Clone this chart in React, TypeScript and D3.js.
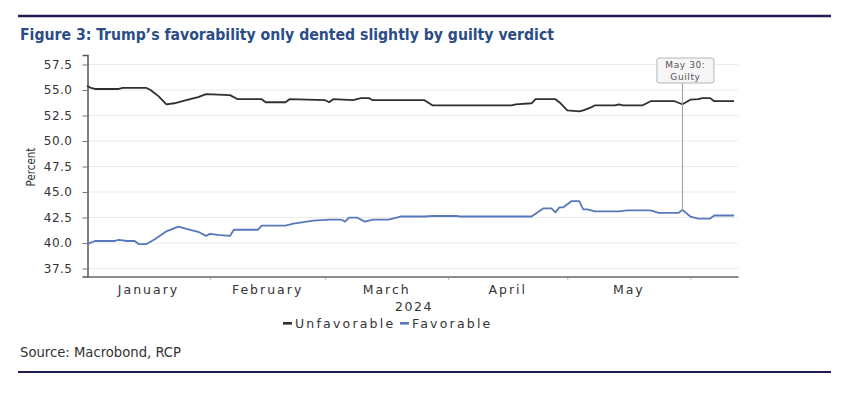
import React, { useEffect, useRef } from 'react';
import * as d3 from 'd3';

// RCP polling average
const unfavorable: [string, number][] = [
  ['2024-01-01', 55.4], ['2024-01-02', 55.2], ['2024-01-03', 55.1], ['2024-01-09', 55.1],
  ['2024-01-10', 55.2], ['2024-01-16', 55.2], ['2024-01-17', 55.0], ['2024-01-19', 54.4],
  ['2024-01-21', 53.6], ['2024-01-23', 53.7], ['2024-01-26', 54.0], ['2024-01-29', 54.3],
  ['2024-01-31', 54.6], ['2024-02-06', 54.5], ['2024-02-08', 54.1], ['2024-02-14', 54.1],
  ['2024-02-15', 53.8], ['2024-02-20', 53.8], ['2024-02-21', 54.1], ['2024-03-01', 54.0],
  ['2024-03-02', 53.8], ['2024-03-03', 54.1], ['2024-03-08', 54.0], ['2024-03-10', 54.2],
  ['2024-03-12', 54.2], ['2024-03-13', 54.0], ['2024-03-26', 54.0], ['2024-03-28', 53.5],
  ['2024-04-17', 53.5], ['2024-04-18', 53.6], ['2024-04-22', 53.7], ['2024-04-23', 54.1],
  ['2024-04-28', 54.1], ['2024-04-29', 53.8], ['2024-05-01', 53.0], ['2024-05-04', 52.9],
  ['2024-05-05', 53.0], ['2024-05-07', 53.3], ['2024-05-08', 53.5], ['2024-05-13', 53.5],
  ['2024-05-14', 53.6], ['2024-05-15', 53.5], ['2024-05-20', 53.5], ['2024-05-22', 53.9],
  ['2024-05-28', 53.9], ['2024-05-30', 53.6], ['2024-06-01', 54.05], ['2024-06-03', 54.1],
  ['2024-06-04', 54.2], ['2024-06-06', 54.2], ['2024-06-07', 53.9], ['2024-06-12', 53.9],
];

const favorable: [string, number][] = [
  ['2024-01-01', 39.9], ['2024-01-03', 40.2], ['2024-01-08', 40.2], ['2024-01-09', 40.3],
  ['2024-01-11', 40.2], ['2024-01-13', 40.2], ['2024-01-14', 39.9], ['2024-01-16', 39.9],
  ['2024-01-18', 40.35], ['2024-01-21', 41.15], ['2024-01-24', 41.6], ['2024-01-27', 41.3],
  ['2024-01-29', 41.1], ['2024-01-31', 40.7], ['2024-02-01', 40.9], ['2024-02-03', 40.8],
  ['2024-02-06', 40.7], ['2024-02-07', 41.3], ['2024-02-13', 41.3], ['2024-02-14', 41.7],
  ['2024-02-20', 41.7], ['2024-02-22', 41.9], ['2024-02-27', 42.2], ['2024-03-02', 42.3],
  ['2024-03-05', 42.3], ['2024-03-06', 42.1], ['2024-03-07', 42.5], ['2024-03-09', 42.5],
  ['2024-03-11', 42.1], ['2024-03-13', 42.3], ['2024-03-17', 42.3], ['2024-03-20', 42.6],
  ['2024-03-26', 42.6], ['2024-03-28', 42.65], ['2024-04-03', 42.65], ['2024-04-04', 42.6],
  ['2024-04-22', 42.6], ['2024-04-25', 43.4], ['2024-04-27', 43.4], ['2024-04-28', 43.0],
  ['2024-04-29', 43.5], ['2024-04-30', 43.5], ['2024-05-02', 44.1], ['2024-05-04', 44.1],
  ['2024-05-05', 43.3], ['2024-05-06', 43.3], ['2024-05-08', 43.1], ['2024-05-14', 43.1],
  ['2024-05-16', 43.2], ['2024-05-22', 43.2], ['2024-05-24', 42.95], ['2024-05-29', 42.95],
  ['2024-05-30', 43.25], ['2024-06-01', 42.6], ['2024-06-03', 42.4], ['2024-06-06', 42.4],
  ['2024-06-07', 42.7], ['2024-06-12', 42.7],
];

const monthLabels = ['January', 'February', 'March', 'April', 'May'];
const yTicks = [37.5, 40, 42.5, 45, 47.5, 50, 52.5, 55, 57.5];
const verdictDate = '2024-05-30';
const verdictText = ['May 30:', 'Guilty'];

const W = 848;
const H = 393;
const AXIS_FONT = "'DejaVu Sans', Verdana, sans-serif";
const NARROW_FONT = "'Liberation Sans Narrow', 'DejaVu Sans Condensed', 'Open Sans', sans-serif";

const App = () => {
  const ref = useRef<SVGSVGElement | null>(null);

  useEffect(() => {
    const svg = d3.select(ref.current);
    svg.selectAll('*').remove();

    const parse = d3.timeParse('%Y-%m-%d');
    const unfav = unfavorable.map(([d, v]) => ({ date: parse(d) as Date, value: v }));
    const fav = favorable.map(([d, v]) => ({ date: parse(d) as Date, value: v }));

    const x = d3.scaleTime()
      .domain([new Date(2024, 0, 1), new Date(2024, 5, 13)])
      .range([87, 738]);
    const y = d3.scaleLinear().domain([36.72, 58.43]).range([276.5, 55]);

    svg.append('rect').attr('width', W).attr('height', H).attr('fill', '#fff');

    // frame rules
    svg.append('line')
      .attr('x1', 18).attr('x2', 831).attr('y1', 16).attr('y2', 16)
      .attr('stroke', '#1d1d52').attr('stroke-width', 2.6);
    svg.append('line')
      .attr('x1', 18).attr('x2', 831).attr('y1', 372).attr('y2', 372)
      .attr('stroke', '#1d1d52').attr('stroke-width', 2.2);

    svg.append('text')
      .attr('x', 20).attr('y', 39.5)
      .attr('font-family', NARROW_FONT)
      .attr('font-size', 16)
      .attr('font-weight', 600)
      .attr('fill', '#2b4c86')
      .attr('textLength', 534)
      .attr('lengthAdjust', 'spacingAndGlyphs')
      .text('Figure 3: Trump\u2019s favorability only dented slightly by guilty verdict');

    svg.append('text')
      .attr('x', 20).attr('y', 356.5)
      .attr('font-family', NARROW_FONT)
      .attr('font-size', 13.5)
      .attr('fill', '#333')
      .attr('textLength', 161)
      .attr('lengthAdjust', 'spacingAndGlyphs')
      .text('Source: Macrobond, RCP');

    // gridlines
    svg.append('g')
      .selectAll('line')
      .data(yTicks)
      .enter()
      .append('line')
      .attr('x1', 88).attr('x2', 738)
      .attr('y1', (d) => y(d)).attr('y2', (d) => y(d))
      .attr('stroke', '#ebebeb').attr('stroke-width', 1);

    // y axis
    const yAxis = svg.append('g')
      .attr('transform', 'translate(87.5,0)')
      .call(d3.axisLeft(y).tickValues(yTicks).tickFormat(d3.format('.1f')).tickSize(5).tickPadding(10));
    yAxis.select('.domain').attr('stroke', '#555').attr('stroke-width', 1.5);
    yAxis.selectAll('.tick line').attr('stroke', '#777');
    yAxis.selectAll('.tick text')
      .attr('font-family', AXIS_FONT)
      .attr('font-size', 12)
      .attr('letter-spacing', 0.5)
      .attr('fill', '#333');

    // x axis, ticks at month boundaries
    const xAxis = svg.append('g')
      .attr('transform', 'translate(0,276.5)')
      .call(d3.axisBottom(x)
        .tickValues(d3.timeMonth.range(new Date(2024, 1, 1), new Date(2024, 5, 2)))
        .tickFormat(() => '')
        .tickSize(3)
        .tickSizeOuter(0));
    xAxis.select('.domain').attr('stroke', '#666').attr('stroke-width', 1.5);
    xAxis.selectAll('.tick line').attr('stroke', '#999');

    svg.append('g')
      .selectAll('text')
      .data(monthLabels)
      .enter()
      .append('text')
      .attr('x', (d, i) => (x(new Date(2024, i, 1)) + x(new Date(2024, i + 1, 1))) / 2)
      .attr('y', 293.5)
      .attr('text-anchor', 'middle')
      .attr('font-family', AXIS_FONT)
      .attr('font-size', 12.5)
      .attr('letter-spacing', 2)
      .attr('fill', '#333')
      .text((d) => d);

    svg.append('text')
      .attr('x', 414).attr('y', 311)
      .attr('text-anchor', 'middle')
      .attr('font-family', AXIS_FONT)
      .attr('font-size', 12.5)
      .attr('letter-spacing', 1.5)
      .attr('fill', '#333')
      .text('2024');

    svg.append('text')
      .attr('transform', 'translate(35,167) rotate(-90)')
      .attr('text-anchor', 'middle')
      .attr('font-family', NARROW_FONT)
      .attr('font-size', 11.5)
      .attr('fill', '#333')
      .text('Percent');

    // series
    const line = d3.line<{ date: Date; value: number }>()
      .x((d) => x(d.date))
      .y((d) => y(d.value));

    svg.append('path')
      .datum(unfav)
      .attr('d', line)
      .attr('fill', 'none')
      .attr('stroke', '#2f2f2f')
      .attr('stroke-width', 1.8)
      .attr('stroke-linejoin', 'round');

    svg.append('path')
      .datum(fav)
      .attr('d', line)
      .attr('fill', 'none')
      .attr('stroke', '#5878bc')
      .attr('stroke-width', 1.8)
      .attr('stroke-linejoin', 'round');

    // verdict annotation
    const vd = parse(verdictDate) as Date;
    const vx = x(vd);
    const favAtVerdict = fav.find((d) => +d.date === +vd);
    svg.append('line')
      .attr('x1', vx).attr('x2', vx)
      .attr('y1', 83).attr('y2', y(favAtVerdict ? favAtVerdict.value : 43))
      .attr('stroke', '#9a9a9a').attr('stroke-width', 1);
    svg.append('rect')
      .attr('x', vx - 25.5).attr('y', 58)
      .attr('width', 57).attr('height', 25)
      .attr('rx', 2)
      .attr('fill', '#f6f6f6')
      .attr('stroke', '#b5b5b5');
    svg.append('g')
      .selectAll('text')
      .data(verdictText)
      .enter()
      .append('text')
      .attr('x', vx + 3)
      .attr('y', (d, i) => 68 + i * 11.5)
      .attr('text-anchor', 'middle')
      .attr('font-family', AXIS_FONT)
      .attr('font-size', 9)
      .attr('letter-spacing', 0.6)
      .attr('fill', '#555')
      .text((d) => d);

    // legend
    const legend = svg.append('g').attr('transform', 'translate(283,327.5)');
    const items = [
      { label: 'Unfavorable', color: '#2f2f2f', x0: 0 },
      { label: 'Favorable', color: '#5878bc', x0: 117 },
    ];
    items.forEach((it) => {
      legend.append('rect')
        .attr('x', it.x0).attr('y', -5.5)
        .attr('width', 9).attr('height', 2.6)
        .attr('fill', it.color);
      legend.append('text')
        .attr('x', it.x0 + 12).attr('y', 0)
        .attr('font-family', AXIS_FONT)
        .attr('font-size', 12.5)
        .attr('letter-spacing', 2.2)
        .attr('fill', '#333')
        .text(it.label);
    });
  }, []);

  return (
    <svg
      ref={ref}
      width={W}
      height={H}
      style={{ position: 'absolute', left: 0, top: 0, display: 'block' }}
    />
  );
};

export default App;
